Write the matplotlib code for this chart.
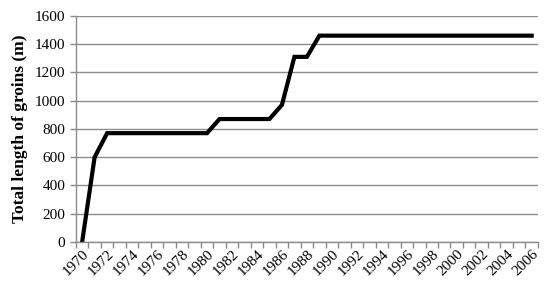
import numpy as np
import matplotlib
matplotlib.use('Agg')
import matplotlib.pyplot as plt

years = list(range(1970, 2007))
length = [0, 600, 770, 770, 770, 770, 770, 770, 770, 770, 770,
          870, 870, 870, 870, 870, 970, 1310, 1310] + [1460] * 18

plt.rcParams['font.family'] = ['Liberation Serif', 'DejaVu Serif']

fig = plt.figure(figsize=(5.5, 2.94), dpi=100)
ax = fig.add_axes([0.138, 0.177, 0.840, 0.769])

x = np.arange(len(years))
ax.plot(x, length, color='black', lw=3.0, solid_joinstyle='miter')

ax.set_xlim(-0.5, len(years) - 0.5)
ax.set_ylim(0, 1600)
ax.set_yticks(np.arange(0, 1601, 200))
ax.grid(axis='y', color='#8c8c8c', lw=1.0)
ax.set_axisbelow(True)

# category axis: tick marks between categories, labels every 2 years
ax.set_xticks(np.arange(-0.5, len(years)), minor=True)
ax.set_xticks(x[::2])
ax.set_xticklabels([str(y) for y in years[::2]], rotation=45,
                   ha='right', va='top', rotation_mode='anchor', fontsize=11)
ax.tick_params(axis='x', which='major', length=0, pad=4)
ax.tick_params(axis='x', which='minor', length=4, color='#8c8c8c', width=1)
ax.tick_params(axis='y', length=4, color='#8c8c8c', width=1, labelsize=11)

for s in ['top', 'right']:
    ax.spines[s].set_visible(False)
for s in ['left', 'bottom']:
    ax.spines[s].set_color('#8c8c8c')
    ax.spines[s].set_linewidth(1)

ax.set_ylabel('Total length of groins (m)', fontsize=12.5, fontweight='bold', labelpad=5)

plt.savefig('out.png', dpi=100)
